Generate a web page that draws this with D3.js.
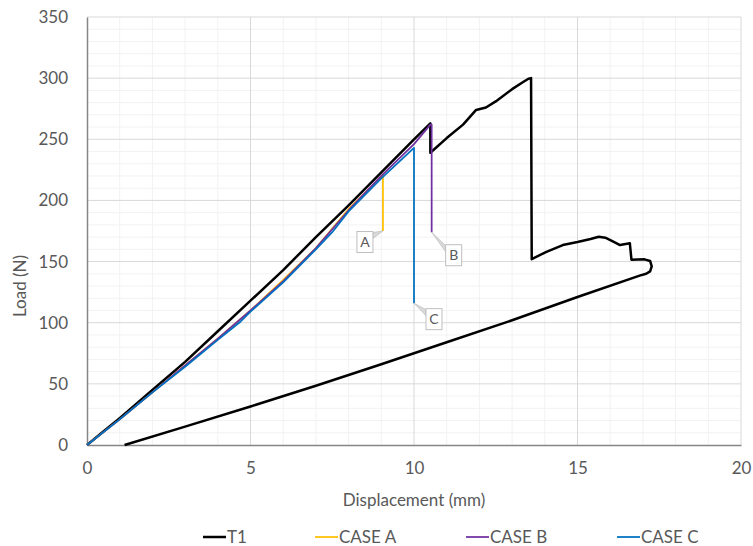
<!DOCTYPE html>
<html>
<head>
<meta charset="utf-8">
<script src="https://cdn.jsdelivr.net/npm/d3@7"></script>
<style>
  body { margin: 0; background: #fff; }
  svg { display: block; font-family: Lato, "Open Sans", sans-serif; }
</style>
</head>
<body>
<div id="chart"></div>
<script>
"use strict";

// T1 test curve (loading, crack jumps, unloading)
var t1X = [0, 0.5, 1, 2, 3, 4, 5, 6, 7, 8, 9, 10, 10.5, 10.5, 11.0, 11.5, 11.9, 12.2, 12.5, 13.0, 13.35, 13.5, 13.58, 13.6,
	14.05, 14.55, 15.0, 15.4, 15.65, 15.85, 16.05, 16.3, 16.6, 16.65, 17.05, 17.22, 17.27, 17.22, 17.1, 16.9,
	15, 13, 11, 9, 7, 5, 3, 1.15];
var t1Y = [0, 11, 22, 45, 68, 93, 118, 143, 170, 196, 223, 250, 263, 239, 251, 262, 274, 276, 281, 291, 297, 299.5, 300, 152,
	158, 163.5, 166, 168.5, 170.3, 169.5, 167, 163.5, 165, 151.5, 151.8, 150.5, 146, 142, 140, 138.5,
	121, 102, 84, 66, 48.5, 31.5, 15, 0];

// simulated cases
var caseAX = [0, 1, 2, 3, 4, 5, 6, 7, 8, 9, 9.05, 9.05];
var caseAY = [0, 21, 43, 65, 87, 110, 135, 161, 193, 219, 221, 175];
var caseBX = [0, 1, 2, 3, 4, 5, 6, 7, 8, 9, 10, 10.5, 10.54, 10.54];
var caseBY = [0, 21, 43, 65, 87, 110, 134, 161, 192, 220, 246, 262, 262, 174];
var caseCX = [0, 1, 2, 3, 4, 4.7, 5, 6, 7, 7.5, 8, 9, 10, 10];
var caseCY = [0, 21, 43, 64, 86, 101, 109, 133, 160, 174, 191, 218, 243, 116];

var seriesNames = ["T1", "CASE A", "CASE B", "CASE C"];
var seriesColors = ["#000000", "#ffc000", "#7030a0", "#0070c0"];

var xTicks = [0, 5, 10, 15, 20];
var yTicks = [0, 50, 100, 150, 200, 250, 300, 350];

// callout labels: text, anchor point, pixel offset of box centre
var labelText = ["A", "B", "C"];
var labelAt = [[9.05, 175], [10.54, 174], [10.0, 116]];
var labelOffset = [[-18, 11], [22, 23], [20, 16]];

var W = 753, H = 546;
var margin = { top: 17, right: 12, bottom: 101, left: 87 };

var svg = d3.select("#chart").append("svg")
	.attr("width", W).attr("height", H);

var x = d3.scaleLinear().domain([0, 20]).range([margin.left, W - margin.right]);
var y = d3.scaleLinear().domain([0, 350]).range([H - margin.bottom, margin.top]);

// minor grid
svg.append("g").selectAll("line")
	.data(d3.range(0, 351, 10).filter(function (v) { return v % 50 !== 0; }))
	.enter().append("line")
	.attr("x1", x(0)).attr("x2", x(20))
	.attr("y1", function (d) { return y(d); }).attr("y2", function (d) { return y(d); })
	.attr("stroke", "#f2f2f2");
svg.append("g").selectAll("line")
	.data(d3.range(0, 21, 1).filter(function (v) { return v % 5 !== 0; }))
	.enter().append("line")
	.attr("y1", y(0)).attr("y2", y(350))
	.attr("x1", function (d) { return x(d); }).attr("x2", function (d) { return x(d); })
	.attr("stroke", "#f2f2f2");

// major grid
svg.append("g").selectAll("line")
	.data(yTicks.slice(1))
	.enter().append("line")
	.attr("x1", x(0)).attr("x2", x(20))
	.attr("y1", function (d) { return y(d); }).attr("y2", function (d) { return y(d); })
	.attr("stroke", "#d9d9d9");
svg.append("g").selectAll("line")
	.data(xTicks.slice(1))
	.enter().append("line")
	.attr("y1", y(0)).attr("y2", y(350))
	.attr("x1", function (d) { return x(d); }).attr("x2", function (d) { return x(d); })
	.attr("stroke", "#d9d9d9");

// axes
var yAxis = svg.append("g")
	.attr("transform", "translate(" + x(0) + ",0)")
	.call(d3.axisLeft(y).tickValues(yTicks).tickSize(0).tickPadding(19));
var xAxis = svg.append("g")
	.attr("transform", "translate(0," + y(0) + ")")
	.call(d3.axisBottom(x).tickValues(xTicks).tickSize(0).tickPadding(17));
[xAxis, yAxis].forEach(function (a) {
	a.select(".domain").attr("stroke", "#868686").attr("stroke-width", 1.5);
	a.selectAll("text").attr("fill", "#595959").style("font-size", "17px").style("font-family", "Lato, sans-serif");
});

svg.append("text")
	.attr("x", (x(0) + x(20)) / 2).attr("y", 506)
	.attr("text-anchor", "middle")
	.attr("fill", "#595959").style("font-size", "17px")
	.text("Displacement (mm)");
svg.append("text")
	.attr("transform", "translate(26,286) rotate(-90)")
	.attr("text-anchor", "middle")
	.attr("fill", "#595959").style("font-size", "17px")
	.text("Load (N)");

// series
var line = d3.line()
	.x(function (d) { return x(d[0]); })
	.y(function (d) { return y(d[1]); });

var series = [
	d3.zip(t1X, t1Y),
	d3.zip(caseAX, caseAY),
	d3.zip(caseBX, caseBY),
	d3.zip(caseCX, caseCY)
];

svg.append("g").selectAll("path")
	.data(series)
	.enter().append("path")
	.attr("d", line)
	.attr("fill", "none")
	.attr("stroke", function (d, i) { return seriesColors[i]; })
	.attr("stroke-width", function (d, i) { return i === 0 ? 2.5 : 1.75; })
	.attr("stroke-linejoin", "round");

// callouts
var bw = 16, bh = 21;
labelText.forEach(function (t, i) {
	var ax = x(labelAt[i][0]), ay = y(labelAt[i][1]);
	var cx = ax + labelOffset[i][0], cy = ay + labelOffset[i][1];
	var g = svg.append("g");
	// wedge from anchor to nearest box corner side
	var ex = labelOffset[i][0] < 0 ? cx + bw / 2 : cx - bw / 2;
	var ey = cy - bh / 2;
	g.append("path")
		.attr("d", "M" + ax + "," + ay + "L" + ex + "," + (ey + 1) + "L" + ex + "," + (ey + 7) + "Z")
		.attr("fill", "#d9d9d9").attr("stroke", "#bfbfbf").attr("stroke-width", 0.75);
	g.append("rect")
		.attr("x", cx - bw / 2).attr("y", cy - bh / 2)
		.attr("width", bw).attr("height", bh)
		.attr("fill", "#fff").attr("stroke", "#bfbfbf");
	g.append("text")
		.attr("x", cx).attr("y", cy + 5)
		.attr("text-anchor", "middle")
		.attr("fill", "#595959").style("font-size", "14px")
		.text(t);
});

// legend
var legendX = [203, 315, 466, 617];
var legend = svg.append("g").selectAll("g")
	.data(seriesNames)
	.enter().append("g")
	.attr("transform", function (d, i) { return "translate(" + legendX[i] + ",537)"; });
legend.append("line")
	.attr("x1", 0).attr("x2", 23)
	.attr("stroke", function (d, i) { return seriesColors[i]; })
	.attr("stroke-width", function (d, i) { return i === 0 ? 2.5 : 1.75; });
legend.append("text")
	.attr("x", 24).attr("y", 6)
	.attr("fill", "#595959").style("font-size", "17px")
	.text(function (d) { return d; });
</script>
</body>
</html>
